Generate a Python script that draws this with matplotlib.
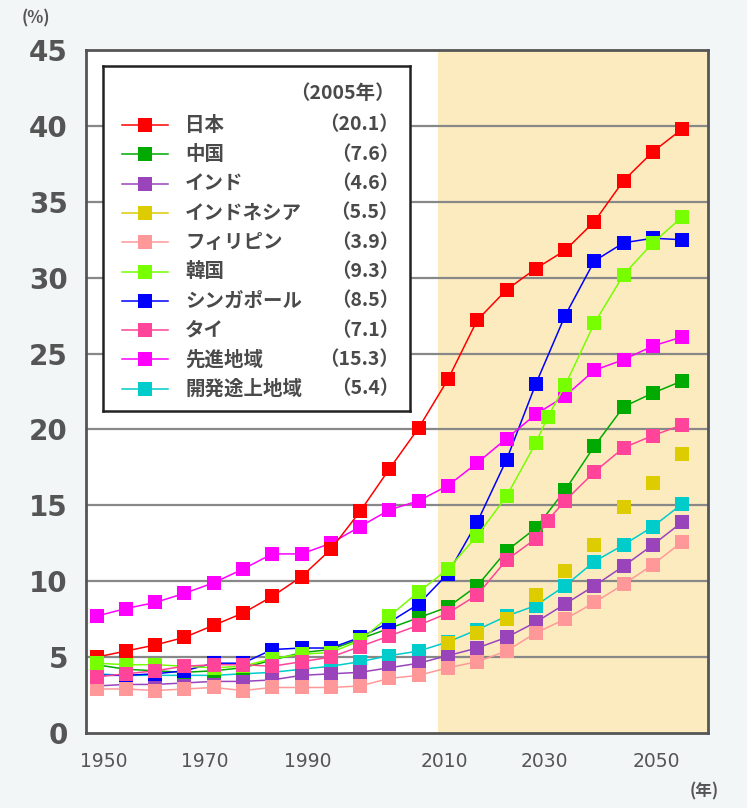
import matplotlib
matplotlib.use("Agg")
import matplotlib.pyplot as plt

# ── data: share of population aged 65+ (%) ───────────────────────────────────
years = list(range(1950, 2051, 5))
years_27 = years[:16] + [2027] + years[16:]      # Korea / Thai have an extra point
years_idn = list(range(2010, 2051, 5))           # Indonesia markers only from 2010

japan = [5.0, 5.4, 5.8, 6.3, 7.1, 7.9, 9.0, 10.3, 12.1, 14.6, 17.4, 20.1,
         23.3, 27.2, 29.2, 30.6, 31.8, 33.7, 36.4, 38.3, 39.8]
china = [4.5, 4.2, 4.1, 4.0, 4.1, 4.3, 4.8, 5.3, 5.5, 6.2, 6.9, 7.6,
         8.3, 9.7, 12.0, 13.5, 16.0, 18.9, 21.5, 22.4, 23.2]
india = [3.1, 3.2, 3.2, 3.3, 3.4, 3.4, 3.5, 3.8, 3.9, 4.0, 4.3, 4.6,
         5.1, 5.6, 6.3, 7.3, 8.5, 9.7, 11.0, 12.4, 13.9]
indonesia = [5.9, 6.6, 7.5, 9.1, 10.7, 12.4, 14.9, 16.5, 18.4]
philippines = [2.9, 2.9, 2.8, 2.9, 3.0, 2.8, 3.0, 3.0, 3.0, 3.1, 3.6, 3.8,
               4.3, 4.7, 5.4, 6.6, 7.5, 8.6, 9.8, 11.1, 12.6]
korea = [4.6, 4.5, 4.5, 4.4, 4.3, 4.4, 4.9, 5.2, 5.3, 6.1, 7.7, 9.3,
         10.8, 13.0, 15.6, 19.1, 20.8, 22.9, 27.0, 30.2, 32.3, 34.0]
singapore = [3.8, 3.8, 3.9, 4.1, 4.6, 4.6, 5.5, 5.6, 5.6, 6.3, 7.3, 8.5,
             10.5, 13.9, 18.0, 23.0, 27.5, 31.1, 32.3, 32.6, 32.5]
thai = [3.7, 3.9, 4.1, 4.4, 4.5, 4.5, 4.4, 4.7, 5.0, 5.7, 6.4, 7.1,
        7.9, 9.1, 11.4, 12.8, 14.0, 15.3, 17.2, 18.8, 19.6, 20.3]
developed = [7.7, 8.2, 8.6, 9.2, 9.9, 10.8, 11.8, 11.8, 12.5, 13.6, 14.7, 15.3,
             16.3, 17.8, 19.4, 21.0, 22.2, 23.9, 24.6, 25.5, 26.1]
developing = [3.9, 3.8, 3.8, 3.8, 3.8, 3.9, 4.0, 4.2, 4.4, 4.7, 5.1, 5.4,
              6.0, 6.8, 7.7, 8.4, 9.7, 11.3, 12.4, 13.6, 15.1]

names = ["日本", "中国", "インド", "インドネシア", "フィリピン", "韓国",
         "シンガポール", "タイ", "先進地域", "開発途上地域"]
values_2005 = ["20.1", "7.6", "4.6", "5.5", "3.9", "9.3", "8.5", "7.1", "15.3", "5.4"]
year_labels = ["1950", "1970", "1990", "2010", "2030", "2050"]

# ── styling ───────────────────────────────────────────────────────────────────
COLORS = ["#FF0000", "#00AA00", "#9944BB", "#DDCC00", "#FF9999",
          "#77FF00", "#0000FF", "#FF4499", "#FF00FF", "#00CCCC"]
BG = "#F2F6F6"
SHADE = "#FDEBC0"
TXT = "#555555"
JP = ["Noto Sans CJK JP", "DejaVu Sans"]

# x positions of the year labels as they sit in the original artwork
label_pos = [1951.2, 1968.5, 1986.1, 2009.4, 2026.5, 2045.6]

fig = plt.figure(figsize=(7.47, 8.08), dpi=100)
fig.patch.set_facecolor(BG)
ax = fig.add_axes([0.1151, 0.0928, 0.8327, 0.8453])
ax.set_facecolor("white")
ax.set_xlim(1948.2, 2054.4)
ax.set_ylim(0, 45)

# projection period shading + horizontal grid
ax.axvspan(2008.3, 2054.4, color=SHADE, zorder=0, lw=0)
for v in range(5, 45, 5):
    ax.axhline(v, color="#888888", lw=1.6, zorder=1)

series = [
    (years, japan), (years, china), (years, india), (years_idn, indonesia),
    (years, philippines), (years_27, korea), (years, singapore),
    (years_27, thai), (years, developed), (years, developing),
]
# drawing order, bottom to top
zorders = [9, 6, 3, 5, 4, 10, 7, 11, 8, 2]

for (xs, ys), c, z, i in zip(series, COLORS, zorders, range(10)):
    ls = "none" if i == 3 else "-"
    ax.plot(xs, ys, color=c, lw=1.1, ls=ls, marker="s", ms=10,
            mec=c, mew=0, zorder=z)

for s in ax.spines.values():
    s.set_color("#555555")
    s.set_linewidth(2)
    s.set_zorder(20)

ax.set_yticks(range(0, 46, 5))
ax.set_yticklabels([str(v) for v in range(0, 46, 5)], fontsize=20, color=TXT,
                   fontweight="bold")
ax.set_xticks(label_pos)
ax.set_xticklabels(year_labels, fontsize=13.5, color=TXT)
ax.tick_params(axis="y", length=0, pad=13)
ax.tick_params(axis="x", length=0, pad=14)

fig.text(0.048, 0.977, "(%)", fontsize=12, color=TXT, ha="center", va="center",
         family=JP, fontweight="bold")
fig.text(0.943, 0.021, "(年)", fontsize=12, color=TXT, ha="center", va="center",
         family=JP, fontweight="bold")

# ── legend box ────────────────────────────────────────────────────────────────
lax = fig.add_axes([0.1379, 0.4913, 0.411, 0.427])
lax.set_facecolor("white")
lax.set_xlim(0, 307)
lax.set_ylim(345, 0)
lax.set_xticks([])
lax.set_yticks([])
for s in lax.spines.values():
    s.set_color("#222222")
    s.set_linewidth(1.8)

lax.text(292, 27, "（2005年）", fontsize=14, color="#4a4a4a", ha="right",
         va="center", family=JP, fontweight="bold")
for i, (name, val, c) in enumerate(zip(names, values_2005, COLORS)):
    y = 59 + i * 29.3
    lax.plot([19, 65], [y, y], color=c, lw=1.1)
    lax.plot([42], [y], color=c, marker="s", ms=10, mew=0)
    lax.text(82, y, name, fontsize=14, color="#4a4a4a", va="center", family=JP,
             fontweight="bold")
    lax.text(296, y, f"（{val}）", fontsize=14, color="#4a4a4a", ha="right",
             va="center", family=JP, fontweight="bold")

plt.savefig("out.png", dpi=100, facecolor=BG)
